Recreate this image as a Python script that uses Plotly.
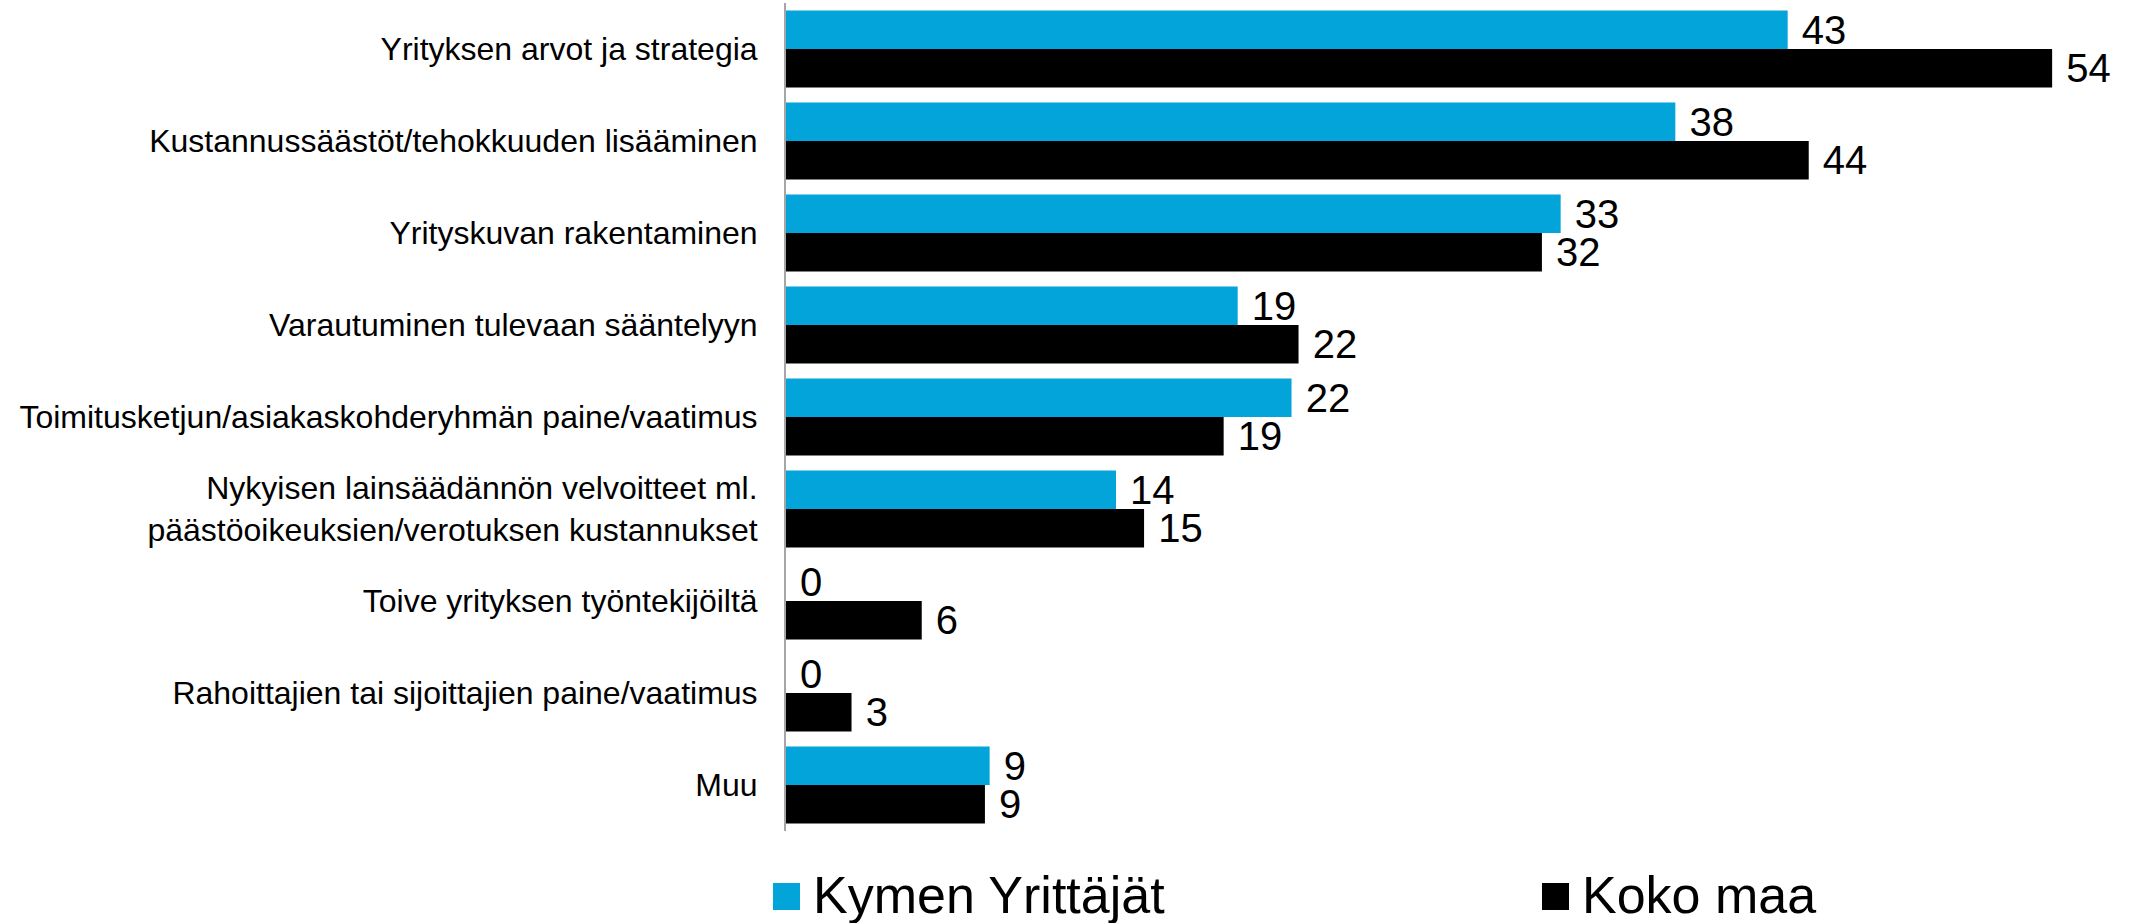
import plotly.graph_objects as go

categories = [
    "Yrityksen arvot ja strategia",
    "Kustannussäästöt/tehokkuuden lisääminen",
    "Yrityskuvan rakentaminen",
    "Varautuminen tulevaan sääntelyyn",
    "Toimitusketjun/asiakaskohderyhmän paine/vaatimus",
    "Nykyisen lainsäädännön velvoitteet ml.<br>päästöoikeuksien/verotuksen kustannukset",
    "Toive yrityksen työntekijöiltä",
    "Rahoittajien tai sijoittajien paine/vaatimus",
    "Muu",
]
kymen_values = [42.8, 38.0, 33.1, 19.3, 21.6, 14.1, 0, 0, 8.7]
koko_values = [54.1, 43.7, 32.3, 21.9, 18.7, 15.3, 5.8, 2.8, 8.5]
kymen_labels = ["43", "38", "33", "19", "22", "14", "0", "0", "9"]
koko_labels = ["54", "44", "32", "22", "19", "15", "6", "3", "9"]
series_names = ["Kymen Yrittäjät", "Koko maa"]
colors = ["#03A4DA", "#000000"]

FONT = "Liberation Sans, Arial, sans-serif"

fig = go.Figure()
for vals, labs, name, col in [
    (kymen_values, kymen_labels, series_names[0], colors[0]),
    (koko_values, koko_labels, series_names[1], colors[1]),
]:
    fig.add_trace(go.Bar(
        y=categories, x=vals, name=name, orientation="h",
        marker=dict(color=col, line=dict(width=0)),
        text=["\u00a0" + t for t in labs],
        textposition="outside", constraintext="none", cliponaxis=False,
        textfont=dict(family=FONT, size=40, color="#000000"),
        showlegend=False,
    ))

W, H = 2133, 923
ML, MR, MT, MB = 786, 13, 3, 92
PW, PH = W - ML - MR, H - MT - MB

fig.update_layout(
    width=W, height=H,
    margin=dict(l=ML, r=MR, t=MT, b=MB),
    paper_bgcolor="white", plot_bgcolor="white",
    barmode="group", bargap=0.165, bargroupgap=0,
    font=dict(family=FONT, color="#000000"),
    xaxis=dict(range=[0, 57], showgrid=False, zeroline=False, showline=False,
               showticklabels=False, ticks=""),
    yaxis=dict(autorange="reversed", showgrid=False, zeroline=False,
               showline=True, linecolor="#A6A6A6", linewidth=2,
               ticks="", ticklabelstandoff=20,
               tickfont=dict(family=FONT, size=32, color="#000000")),
)

# Legend (drawn manually to match the large square markers)
legend_items = [(773, series_names[0], colors[0]), (1542, series_names[1], colors[1])]
for xpx, name, col in legend_items:
    fig.add_shape(type="rect", xref="paper", yref="paper",
                  x0=(xpx - ML) / PW, x1=(xpx + 27 - ML) / PW,
                  y0=-(910 - (H - MB)) / PH, y1=-(883 - (H - MB)) / PH,
                  fillcolor=col, line=dict(width=0))
    fig.add_annotation(xref="paper", yref="paper",
                       x=(xpx + 38 - ML) / PW, y=-(895 - (H - MB)) / PH,
                       xanchor="left", yanchor="middle", showarrow=False,
                       text=name, font=dict(family=FONT, size=52, color="#000000"))

fig.write_html("out.html", config={"displayModeBar": False},
               post_script="document.body.style.margin='0';")
